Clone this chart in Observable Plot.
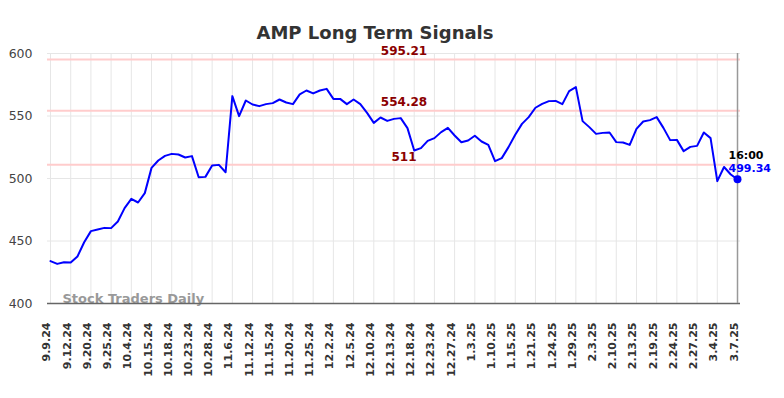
<!DOCTYPE html>
<html>
<head>
<meta charset="utf-8">
<script src="https://cdn.jsdelivr.net/npm/d3@7"></script>
<script src="https://cdn.jsdelivr.net/npm/@observablehq/plot@0.6"></script>
<style>
  html, body { margin: 0; padding: 0; background: #fff; }
  #chart svg { display: block; }
</style>
</head>
<body>
<div id="chart"></div>
<script>
const title = "AMP Long Term Signals";
const watermark = "Stock Traders Daily";
const lastTime = "16:00";

const dateLabels = ["9.9.24","9.12.24","9.20.24","9.25.24","10.4.24","10.15.24","10.18.24","10.23.24","10.28.24","11.6.24","11.12.24","11.15.24","11.20.24","11.25.24","12.2.24","12.5.24","12.10.24","12.13.24","12.18.24","12.23.24","12.27.24","1.3.25","1.10.25","1.15.25","1.21.25","1.24.25","1.29.25","2.3.25","2.10.25","2.13.25","2.19.25","2.24.25","2.27.25","3.4.25","3.7.25"];

const prices = [
433.9, 431.7, 433.0, 432.8, 437.6, 449.0, 457.9, 459.2, 460.5, 460.3,
465.6, 476.3, 483.7, 480.8, 488.3, 508.5, 514.4, 518.1, 519.7, 519.2,
516.8, 517.9, 501.0, 501.3, 510.4, 510.9, 505.0, 565.9, 549.9, 562.4,
559.2, 557.9, 559.5, 560.3, 563.2, 560.8, 559.5, 567.3, 570.4, 568.1,
570.4, 571.7, 563.7, 563.7, 559.5, 563.2, 559.5, 552.5, 544.5, 548.8,
546.1, 547.7, 548.3, 540.3, 522.4, 524.3, 530.1, 532.3, 537.1, 540.5,
534.4, 529.0, 530.4, 534.2, 529.6, 526.9, 513.9, 516.3, 525.1, 535.0,
543.7, 549.1, 556.6, 559.7, 561.9, 562.1, 559.5, 569.9, 573.1, 545.9,
541.1, 535.7, 536.5, 536.8, 529.1, 528.8, 526.9, 539.7, 545.6, 546.7,
549.1, 540.5, 530.7, 530.9, 521.9, 525.3, 526.1, 536.8, 532.3, 497.9,
509.2, 503.2, 499.34
];

const levels = [595.21, 554.28, 511];
const levelLabels = ["595.21", "554.28", "511"];
const yTicks = [400, 450, 500, 550, 600];

const data = prices.map((v, i) => ({i, v}));
const tickIdx = dateLabels.map((d, k) => k * 3);
const last = data[data.length - 1];
const n = prices.length - 1;

const chart = Plot.plot({
  width: 784,
  height: 398,
  marginLeft: 47,
  marginRight: 44,
  marginTop: 53,
  marginBottom: 95,
  style: {fontFamily: "DejaVu Sans", background: "#fff"},
  x: {type: "linear", domain: [-0.445, n + 0.445], axis: null, label: null},
  y: {domain: [400, 600], axis: null, label: null},
  marks: [
    Plot.gridY(yTicks, {stroke: "#e6e6e6", strokeOpacity: 1, strokeWidth: 1}),
    Plot.ruleX(tickIdx, {stroke: "#e6e6e6", strokeOpacity: 1, strokeWidth: 1}),
    Plot.axisY(yTicks, {tickSize: 0, tickPadding: 15, fontSize: 12.5, fill: "#444", label: null}),
    Plot.ruleY(levels, {stroke: "#ffcccc", strokeWidth: 2}),
    Plot.text(levels, {y: d => d, text: (d, k) => levelLabels[k], frameAnchor: "middle", dx: 10, dy: -8, fill: "#8b0000", fontWeight: "bold", fontSize: 12}),
    Plot.text([watermark], {frameAnchor: "bottom-left", dx: 15, dy: -1, textAnchor: "start", fill: "#999", fontWeight: "bold", fontSize: 13}),
    Plot.ruleY([400], {stroke: "#666", strokeWidth: 1.5}),
    Plot.ruleX([n], {stroke: "#999", strokeWidth: 1.5}),
    Plot.line(data, {x: "i", y: "v", stroke: "#0000ff", strokeWidth: 2}),
    Plot.dot([last], {x: "i", y: "v", r: 4, fill: "#0000ff", stroke: "none"}),
    Plot.text([last], {x: "i", y: "v", text: () => lastTime, dx: -9, dy: -24, textAnchor: "start", fill: "#000", fontWeight: "bold", fontSize: 11}),
    Plot.text([last], {x: "i", y: "v", text: d => String(d.v), dx: -9, dy: -11, textAnchor: "start", fill: "#0000ff", fontWeight: "bold", fontSize: 11}),
    Plot.text(tickIdx, {x: d => d, text: (d, k) => dateLabels[k], frameAnchor: "bottom", dy: 19, rotate: -90, textAnchor: "end", fill: "#333", fontWeight: "bold", fontSize: 11}),
    Plot.text([title], {frameAnchor: "top", dx: -19, dy: -27, fill: "#333", fontWeight: "bold", fontSize: 18})
  ]
});
document.getElementById("chart").appendChild(chart);
</script>
</body>
</html>
